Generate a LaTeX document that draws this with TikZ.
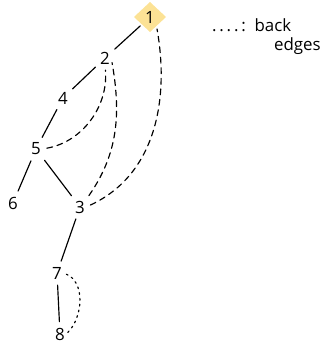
\documentclass[tikz,border=0pt]{standalone}
\usepackage{fontspec}
\setmainfont{Open Sans}
\usetikzlibrary{shapes.geometric}
\definecolor{rootyellow}{HTML}{FBDB7A}
\tikzset{
  vert/.style={inner sep=1pt, font=\Large},
  treeedge/.style={line width=1pt, line cap=round, shorten >=4pt, shorten <=4pt},
  backedge/.style={line width=1pt, dash pattern=on 5pt off 4pt, line cap=round, shorten >=4pt, shorten <=4pt},
  loopedge/.style={line width=1pt, dash pattern=on 1.5pt off 3.5pt, line cap=round, shorten >=2pt, shorten <=2pt}
}
\begin{document}
\begin{tikzpicture}[x=0.03cm, y=-0.03cm]
\useasboundingbox (0,0) rectangle (324,346); %Fixes the page size
\fill[rootyellow, opacity=0.8] (150,2) -- (166,17) -- (150,32) -- (134,17) -- cycle; %Highlight of the root
\node[vert] (n1) at (150,17) {1};
\node[vert] (n2) at (105,58) {2};
\node[vert] (n4) at (63,98) {4};
\node[vert] (n5) at (36,149) {5};
\node[vert] (n6) at (13,203) {6};
\node[vert] (n3) at (80,207) {3};
\node[vert] (n7) at (57,273) {7};
\node[vert] (n8) at (60,334) {8};
%Tree edges
\draw[treeedge] (n1) -- (n2);
\draw[treeedge] (n2) -- (n4);
\draw[treeedge] (n4) -- (n5);
\draw[treeedge] (n5) -- (n6);
\draw[treeedge] (n5) -- (n3);
\draw[treeedge] (n3) -- (n7);
\draw[treeedge] (n7) -- (n8);
%Back edges
\draw[backedge] (n5.east) to[out=10, in=-85] (n2.south);
\draw[backedge] (n3.north east) to[out=55, in=-80] (n2.east);
\draw[backedge] (n3.east) to[out=25, in=-80] (n1.south east);
\draw[loopedge] (n8.east) to[out=45, in=-20] (n7.east);
%Legend
\node[font=\Large, anchor=west] (legend) at (208,25) {.\,.\,.\,.\,:\ \ back};
\node[font=\Large, anchor=west] (legend2) at (270,46) {edges};
\end{tikzpicture}
\end{document}
